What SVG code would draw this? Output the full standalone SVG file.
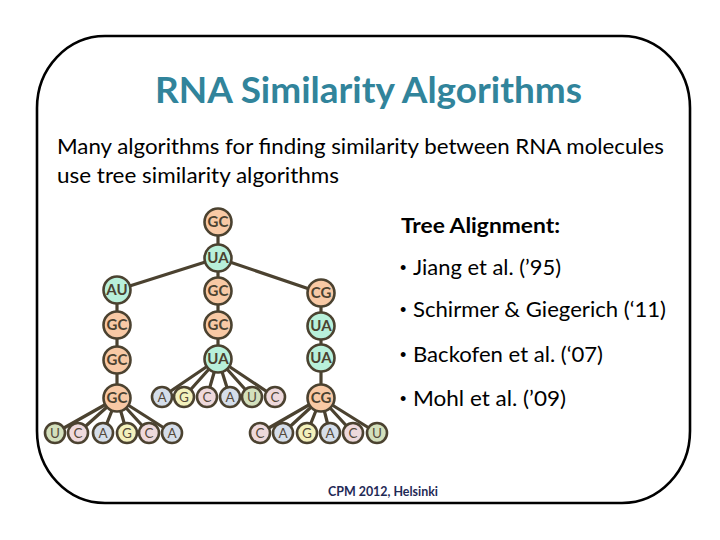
<svg xmlns="http://www.w3.org/2000/svg" width="720" height="540" viewBox="0 0 720 540">
<style>
.frame{fill:none;stroke:#000;stroke-width:2.6}
.title{font-family:Lato,"Liberation Sans",Arial,sans-serif;font-weight:bold;font-size:36px;fill:#31849B}
.body{font-family:Lato,"Liberation Sans",Arial,sans-serif;font-size:21px;fill:#000}
.bul{font-family:"Liberation Sans",Arial,sans-serif;font-size:18px;fill:#000}
.bold{font-weight:bold}
.foot{font-family:Lato,"Liberation Sans",Arial,sans-serif;font-weight:bold;font-size:12.5px;fill:#1F2A56}
.edge{stroke:#4B4230;stroke-width:3.2;fill:none;stroke-linecap:round}
.n circle{stroke:#4B4230;stroke-width:2.6}
.pg{fill:#F8C9A5}
.pt{fill:#B8F0DA}
.la{fill:#D5DEEA}
.lg{fill:#F3F1BC}
.lc{fill:#EED9DC}
.lu{fill:#D3E0BC}
.n text{font-family:Lato,"Liberation Sans",Arial,sans-serif;text-anchor:middle;fill:#4B4230}
.big text{font-size:15px;font-weight:bold}
.small text{font-size:13.5px;fill:#54493A}
</style>
<rect class="frame" x="37" y="36" width="653" height="467" rx="68" ry="72"/>
<text class="title" x="155" y="103" textLength="427" lengthAdjust="spacingAndGlyphs">RNA Similarity Algorithms</text>
<text class="body" x="57" y="154" textLength="607" lengthAdjust="spacingAndGlyphs">Many algorithms for finding similarity between RNA molecules</text>
<text class="body" x="57" y="183" textLength="282" lengthAdjust="spacingAndGlyphs">use tree similarity algorithms</text>
<text class="body bold" x="401" y="233" font-size="20" textLength="159" lengthAdjust="spacingAndGlyphs">Tree Alignment:</text>
<text class="bul" x="400" y="274">•</text>
<text class="body" x="413" y="275" textLength="148" lengthAdjust="spacingAndGlyphs">Jiang et al. (’95)</text>
<text class="bul" x="400" y="316">•</text>
<text class="body" x="413" y="317" textLength="253" lengthAdjust="spacingAndGlyphs">Schirmer &amp; Giegerich (‘11)</text>
<text class="bul" x="400" y="361">•</text>
<text class="body" x="413" y="362" textLength="190" lengthAdjust="spacingAndGlyphs">Backofen et al. (‘07)</text>
<text class="bul" x="400" y="405">•</text>
<text class="body" x="413" y="406" textLength="153" lengthAdjust="spacingAndGlyphs">Mohl et al. (’09)</text>
<text class="foot" x="328" y="496" textLength="110" lengthAdjust="spacingAndGlyphs">CPM 2012, Helsinki</text>

<g id="connectors" class="edge">
<line x1="218" y1="222" x2="218" y2="258"/>
<line x1="218" y1="258" x2="117" y2="290"/>
<line x1="218" y1="258" x2="218" y2="291"/>
<line x1="218" y1="258" x2="321" y2="293"/>
<line x1="117" y1="290" x2="117" y2="398"/>
<line x1="218" y1="291" x2="218" y2="359"/>
<line x1="321" y1="293" x2="321" y2="398"/>
<line x1="218" y1="359" x2="162" y2="397"/>
<line x1="218" y1="359" x2="184" y2="397"/>
<line x1="218" y1="359" x2="207" y2="397"/>
<line x1="218" y1="359" x2="230" y2="397"/>
<line x1="218" y1="359" x2="252" y2="397"/>
<line x1="218" y1="359" x2="275" y2="397"/>
<line x1="117" y1="398" x2="55" y2="433"/>
<line x1="117" y1="398" x2="78" y2="433"/>
<line x1="117" y1="398" x2="103" y2="433"/>
<line x1="117" y1="398" x2="127" y2="433"/>
<line x1="117" y1="398" x2="149" y2="433"/>
<line x1="117" y1="398" x2="172" y2="433"/>
<line x1="321" y1="398" x2="260" y2="433"/>
<line x1="321" y1="398" x2="283" y2="433"/>
<line x1="321" y1="398" x2="307" y2="433"/>
<line x1="321" y1="398" x2="330" y2="433"/>
<line x1="321" y1="398" x2="353" y2="433"/>
<line x1="321" y1="398" x2="377" y2="433"/>
</g>

<g class="n big">
<g id="root-gc"><circle class="pg" cx="218" cy="222" r="13.5"/><text x="218" y="227.2">GC</text></g>
<g id="ua1"><circle class="pt" cx="218" cy="258" r="13.5"/><text x="218" y="263.2">UA</text></g>
<g id="au"><circle class="pt" cx="117" cy="290" r="13.5"/><text x="117" y="295.2">AU</text></g>
<g id="gc-m1"><circle class="pg" cx="218" cy="291" r="13.5"/><text x="218" y="296.2">GC</text></g>
<g id="cg-r1"><circle class="pg" cx="321" cy="293" r="13.5"/><text x="321" y="298.2">CG</text></g>
<g id="gc-l1"><circle class="pg" cx="117" cy="325" r="13.5"/><text x="117" y="330.2">GC</text></g>
<g id="gc-l2"><circle class="pg" cx="117" cy="360" r="13.5"/><text x="117" y="365.2">GC</text></g>
<g id="gc-l3"><circle class="pg" cx="117" cy="398" r="13.5"/><text x="117" y="403.2">GC</text></g>
<g id="gc-m2"><circle class="pg" cx="218" cy="325" r="13.5"/><text x="218" y="330.2">GC</text></g>
<g id="ua-m"><circle class="pt" cx="218" cy="359" r="13.5"/><text x="218" y="364.2">UA</text></g>
<g id="ua-r1"><circle class="pt" cx="321" cy="326" r="13.5"/><text x="321" y="331.2">UA</text></g>
<g id="ua-r2"><circle class="pt" cx="321" cy="358" r="13.5"/><text x="321" y="363.2">UA</text></g>
<g id="cg-r2"><circle class="pg" cx="321" cy="398" r="13.5"/><text x="321" y="403.2">CG</text></g>
</g>

<g class="n small">
<g id="m-a1"><circle class="la" cx="162" cy="397" r="10"/><text x="162" y="401.8">A</text></g>
<g id="m-g"><circle class="lg" cx="184" cy="397" r="10"/><text x="184" y="401.8">G</text></g>
<g id="m-c1"><circle class="lc" cx="207" cy="397" r="10"/><text x="207" y="401.8">C</text></g>
<g id="m-a2"><circle class="la" cx="230" cy="397" r="10"/><text x="230" y="401.8">A</text></g>
<g id="m-u"><circle class="lu" cx="252" cy="397" r="10"/><text x="252" y="401.8">U</text></g>
<g id="m-c2"><circle class="lc" cx="275" cy="397" r="10"/><text x="275" y="401.8">C</text></g>

<g id="l-u"><circle class="lu" cx="55" cy="433" r="10"/><text x="55" y="437.8">U</text></g>
<g id="l-c1"><circle class="lc" cx="78" cy="433" r="10"/><text x="78" y="437.8">C</text></g>
<g id="l-a1"><circle class="la" cx="103" cy="433" r="10"/><text x="103" y="437.8">A</text></g>
<g id="l-g"><circle class="lg" cx="127" cy="433" r="10"/><text x="127" y="437.8">G</text></g>
<g id="l-c2"><circle class="lc" cx="149" cy="433" r="10"/><text x="149" y="437.8">C</text></g>
<g id="l-a2"><circle class="la" cx="172" cy="433" r="10"/><text x="172" y="437.8">A</text></g>

<g id="r-c1"><circle class="lc" cx="260" cy="433" r="10"/><text x="260" y="437.8">C</text></g>
<g id="r-a1"><circle class="la" cx="283" cy="433" r="10"/><text x="283" y="437.8">A</text></g>
<g id="r-g"><circle class="lg" cx="307" cy="433" r="10"/><text x="307" y="437.8">G</text></g>
<g id="r-a2"><circle class="la" cx="330" cy="433" r="10"/><text x="330" y="437.8">A</text></g>
<g id="r-c2"><circle class="lc" cx="353" cy="433" r="10"/><text x="353" y="437.8">C</text></g>
<g id="r-u"><circle class="lu" cx="377" cy="433" r="10"/><text x="377" y="437.8">U</text></g>
</g>
</svg>
